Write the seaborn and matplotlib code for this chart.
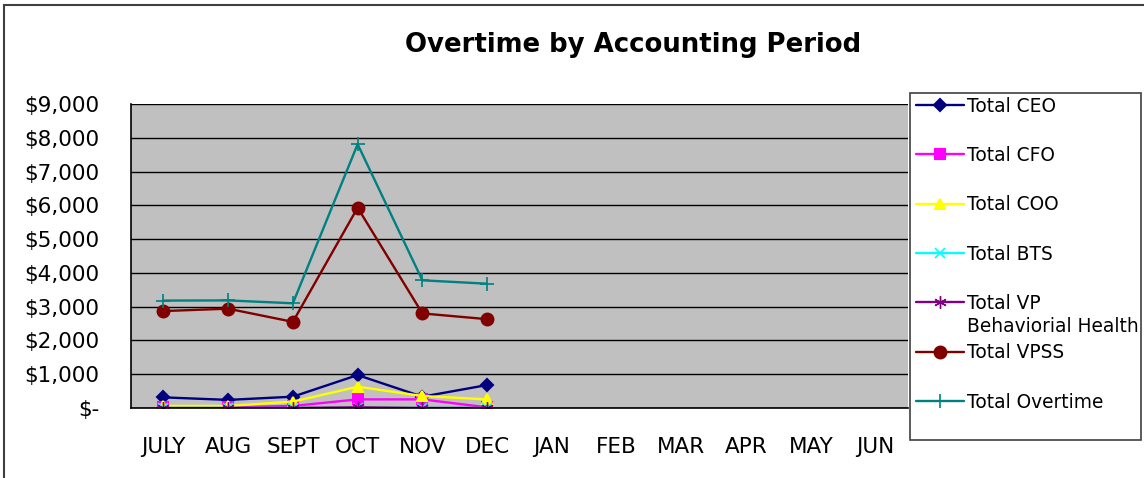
import numpy as np
import pandas as pd
import matplotlib
matplotlib.use("Agg")
import matplotlib.pyplot as plt
import seaborn as sns
from matplotlib.patches import Rectangle
from matplotlib.ticker import FuncFormatter

# datos (solo JULY..DEC tienen valores)
months = ["JULY", "AUG", "SEPT", "OCT", "NOV", "DEC",
          "JAN", "FEB", "MAR", "APR", "MAY", "JUN"]
total_ceo = [315, 240, 335, 975, 335, 680]
total_cfo = [20, 20, 60, 255, 255, 20]
total_coo = [60, 60, 190, 630, 355, 255]
total_bts = [0, 0, 0, 0, 0, 0]
total_vp_bh = [0, 0, 0, 20, 0, 0]
total_vpss = [2870, 2940, 2550, 5930, 2800, 2630]
total_overtime = [3180, 3185, 3100, 7810, 3780, 3680]

series = {
    "Total CEO": total_ceo,
    "Total CFO": total_cfo,
    "Total COO": total_coo,
    "Total BTS": total_bts,
    "Total VP": total_vp_bh,
    "Total VPSS": total_vpss,
    "Total Overtime": total_overtime,
}
colores = {
    "Total CEO": "#000080",
    "Total CFO": "#FF00FF",
    "Total COO": "#FFFF00",
    "Total BTS": "#00FFFF",
    "Total VP": "#800080",
    "Total VPSS": "#800000",
    "Total Overtime": "#008080",
}
# marcador, tamaño, grosor de borde
marcadores = {
    "Total CEO": ("D", 6.5, 1.5),
    "Total CFO": ("s", 7, 1.5),
    "Total COO": ("^", 7.5, 1.5),
    "Total BTS": ("x", 7, 1.2),
    "Total VP": ((6, 2, 0), 9, 1.0),
    "Total VPSS": ("o", 8.5, 1.5),
    "Total Overtime": ("+", 10, 1.2),
}

sns.set_style("white")
plt.rcParams["font.family"] = ["DejaVu Sans"]
plt.rcParams["text.color"] = "black"
plt.rcParams["xtick.color"] = "black"
plt.rcParams["ytick.color"] = "black"

fig = plt.figure(figsize=(11.44, 4.78), dpi=100)
ax = fig.add_axes([131 / 1144, 1 - 408 / 478, (908 - 131) / 1144, (408 - 104) / 478])
ax.set_facecolor("#C0C0C0")

pos = np.arange(len(months))
for nombre, valores in series.items():
    df = pd.DataFrame({"pos": pos[:len(valores)], "valor": valores})
    m, ms, mew = marcadores[nombre]
    sns.lineplot(data=df, x="pos", y="valor", ax=ax, color=colores[nombre],
                 marker=m, markersize=ms, markeredgecolor=colores[nombre],
                 markeredgewidth=mew, linewidth=1.7, label=nombre, legend=False)

ax.set_xlim(-0.5, len(months) - 0.5)
ax.set_ylim(0, 9000)
ax.set_yticks(np.arange(0, 9001, 1000))
ax.yaxis.set_major_formatter(FuncFormatter(lambda v, p: "$-" if v == 0 else "${:,.0f}".format(v)))
ax.set_xticks(pos)
ax.set_xticklabels(months)
ax.set_xticks(np.arange(-0.5, len(months)), minor=True)
ax.tick_params(axis="x", which="major", length=0, pad=21, labelsize=15.5, colors="black")
ax.tick_params(axis="x", which="minor", length=7, width=1, color="black", direction="out")
ax.tick_params(axis="y", length=7, width=1, color="black", direction="out", labelsize=15.5,
               pad=16, colors="black")
ax.grid(axis="y", color="black", linewidth=1)
ax.set_axisbelow(True)
ax.set_xlabel("")
ax.set_ylabel("")
for lado in ["top", "right"]:
    ax.spines[lado].set_visible(False)
for lado in ["left", "bottom"]:
    ax.spines[lado].set_color("black")
    ax.spines[lado].set_linewidth(1.2)

# titulo
fig.text(633 / 1144, 1 - 45 / 478, "Overtime by Accounting Period",
         ha="center", va="center", fontsize=18.7, fontweight="bold", color="black")

# leyenda (marco dibujado aparte)
handles, labels = ax.get_legend_handles_labels()
leg = fig.legend(handles, labels, loc="upper left",
                 bbox_to_anchor=(916 / 1144, 1 - 96.5 / 478),
                 frameon=False, fontsize=13.4, labelspacing=1.63, handlelength=2.58,
                 handletextpad=0.15, borderpad=0, borderaxespad=0)
for t in leg.get_texts():
    t.set_color("black")
fig.canvas.draw()
ax.annotate("Behaviorial Health", xy=(0, 0), xycoords=leg.get_texts()[4],
            xytext=(0, -3), textcoords="offset points", color="black",
            ha="left", va="top", fontsize=13.4, annotation_clip=False)
fig.patches.append(Rectangle((910 / 1144, 1 - 440 / 478), 231 / 1144, 347 / 478,
                             transform=fig.transFigure, fill=True, facecolor="none",
                             edgecolor="#404040", linewidth=1.2))

# marco del grafico
fig.patches.append(Rectangle((4 / 1144, -0.1), 1.1, 1.1 - 5 / 478,
                             transform=fig.transFigure, fill=False,
                             edgecolor="#404040", linewidth=1.5))

fig.savefig("out.png", dpi=100)
